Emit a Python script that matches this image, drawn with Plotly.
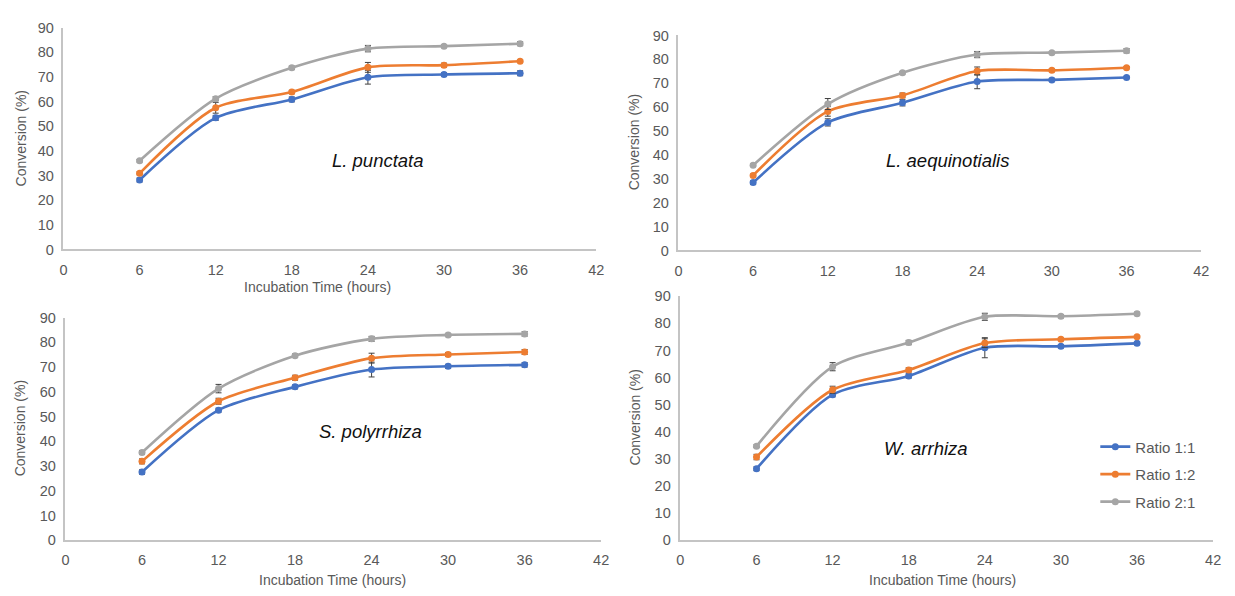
import plotly.graph_objects as go

hours = [6, 12, 18, 24, 30, 36]
series_names = ["Ratio 1:1", "Ratio 1:2", "Ratio 2:1"]
colors = ["#4472C4", "#ED7D31", "#A5A5A5"]
species = ["L. punctata", "L. aequinotialis", "S. polyrrhiza", "W. arrhiza"]

# L. punctata
lp_11 = [28.2, 53.4, 60.9, 69.9, 71.0, 71.5]
lp_12 = [30.9, 57.5, 63.9, 73.9, 74.8, 76.4]
lp_21 = [36.0, 61.2, 73.7, 81.5, 82.5, 83.5]
lp_11_err = [0.8, 1.0, 1.0, 2.8, 0.7, 1.0]
lp_12_err = [0.6, 2.2, 0.7, 2.0, 0.8, 0.5]
lp_21_err = [0.5, 0.8, 0.7, 1.3, 0.6, 0.8]

# L. aequinotialis
la_11 = [28.4, 53.6, 61.8, 70.7, 71.4, 72.4]
la_12 = [31.4, 58.2, 64.9, 75.1, 75.4, 76.5]
la_21 = [35.7, 61.3, 74.4, 82.0, 82.8, 83.6]
la_11_err = [0.8, 1.5, 1.3, 3.0, 0.7, 0.5]
la_12_err = [0.6, 2.0, 1.0, 1.7, 0.6, 0.5]
la_21_err = [0.5, 2.3, 0.5, 1.3, 0.5, 0.9]

# S. polyrrhiza
sp_11 = [27.6, 52.6, 62.0, 69.0, 70.3, 70.9]
sp_12 = [31.9, 56.2, 65.7, 73.6, 75.1, 76.1]
sp_21 = [35.5, 61.3, 74.6, 81.4, 83.0, 83.4]
sp_11_err = [0.9, 0.8, 0.8, 3.0, 0.8, 0.9]
sp_12_err = [1.0, 1.2, 1.0, 2.0, 0.8, 1.0]
sp_21_err = [0.8, 1.7, 0.7, 1.0, 0.6, 0.9]

# W. arrhiza
wa_11 = [26.4, 53.7, 60.6, 71.0, 71.5, 72.6]
wa_12 = [30.7, 55.5, 62.8, 72.7, 74.1, 75.0]
wa_21 = [34.7, 64.0, 72.9, 82.4, 82.6, 83.5]
wa_11_err = [0.7, 0.8, 0.8, 3.7, 0.6, 0.5]
wa_12_err = [1.0, 1.3, 0.8, 1.6, 0.5, 0.5]
wa_21_err = [0.5, 1.5, 0.8, 1.3, 0.6, 0.6]

x_ticks = [0, 6, 12, 18, 24, 30, 36, 42]
y_ticks = [0, 10, 20, 30, 40, 50, 60, 70, 80, 90]

panels = [
    ([lp_11, lp_12, lp_21], [lp_11_err, lp_12_err, lp_21_err]),
    ([la_11, la_12, la_21], [la_11_err, la_12_err, la_21_err]),
    ([sp_11, sp_12, sp_21], [sp_11_err, sp_12_err, sp_21_err]),
    ([wa_11, wa_12, wa_21], [wa_11_err, wa_12_err, wa_21_err]),
]

OFF = 8  # page body margin
W, H = 1235 - OFF, 596 - OFF


def px(x):
    return (x - OFF) / W


def py(y):
    return 1 - (y - OFF) / H


# plot area pixel boxes in window coords: (x0, x1, y_top, y_bottom)
boxes = [
    (60, 598, 20, 248),
    (681, 1209, 28, 249),
    (62, 603, 318, 547),
    (683, 1221, 296, 547),
]

fig = go.Figure()
axis_font = dict(family="Liberation Sans, Arial, sans-serif", size=14.5, color="#595959")

for i, ((vals, errs), box) in enumerate(zip(panels, boxes)):
    sfx = "" if i == 0 else str(i + 1)
    for j in range(3):
        fig.add_trace(go.Scatter(
            x=hours, y=vals[j],
            mode="lines+markers",
            name=series_names[j],
            legendgroup=series_names[j],
            showlegend=(i == 3),
            line=dict(color=colors[j], width=2.6, shape="spline", smoothing=0.8),
            marker=dict(color=colors[j], size=7),
            error_y=dict(type="data", array=errs[j], visible=True,
                         color="#404040", thickness=1, width=3),
            xaxis="x" + sfx, yaxis="y" + sfx,
        ))
    x0, x1, yt, yb = box
    xd = [px(x0), px(x1)]
    yd = [py(yb), py(yt)]
    common = dict(showgrid=False, zeroline=False, showline=True,
                  linecolor="#C4C4C4", linewidth=1.5,
                  tickfont=axis_font, ticks="outside", tickcolor="rgba(0,0,0,0)")
    fig.layout["xaxis" + sfx] = dict(domain=xd, range=[0, 42], tickvals=x_ticks,
                                     anchor="y" + sfx, ticklen=6, **common)
    fig.layout["yaxis" + sfx] = dict(domain=yd, range=[0, 90], tickvals=y_ticks,
                                     anchor="x" + sfx, ticklen=5, **common)

title_font = dict(family="Liberation Sans, Arial, sans-serif", size=14, color="#595959")
ann = []
# x-axis titles
for (cx, cy) in [(317, 287), (332, 588), (948, 588)]:
    ann.append(dict(text="Incubation Time (hours)", x=px(cx), y=py(cy),
                    xref="paper", yref="paper", showarrow=False, font=title_font,
                    xanchor="center", yanchor="middle"))
# y-axis titles
for (cx, cy) in [(17, 134), (637, 138), (17, 432), (637, 421)]:
    ann.append(dict(text="Conversion (%)", x=px(cx), y=py(cy),
                    xref="paper", yref="paper", showarrow=False, font=title_font,
                    textangle=-90, xanchor="center", yanchor="middle"))
# species labels
for name, (cx, cy) in zip(species, [(378, 157), (953, 157), (370, 435), (931, 453)]):
    ann.append(dict(text="<i>" + name + "</i>", x=px(cx), y=py(cy),
                    xref="paper", yref="paper", showarrow=False,
                    font=dict(family="Liberation Sans, Arial, sans-serif", size=18.5, color="#111111"),
                    xanchor="center", yanchor="middle"))

fig.update_layout(
    width=W, height=H,
    margin=dict(l=0, r=0, t=0, b=0),
    paper_bgcolor="white", plot_bgcolor="white",
    annotations=ann,
    legend=dict(x=px(1102), y=py(434), xanchor="left", yanchor="top",
                font=dict(family="Liberation Sans, Arial, sans-serif", size=15, color="#595959"),
                bgcolor="rgba(0,0,0,0)", tracegroupgap=5, itemwidth=30),
)

fig.write_html("out.html")
